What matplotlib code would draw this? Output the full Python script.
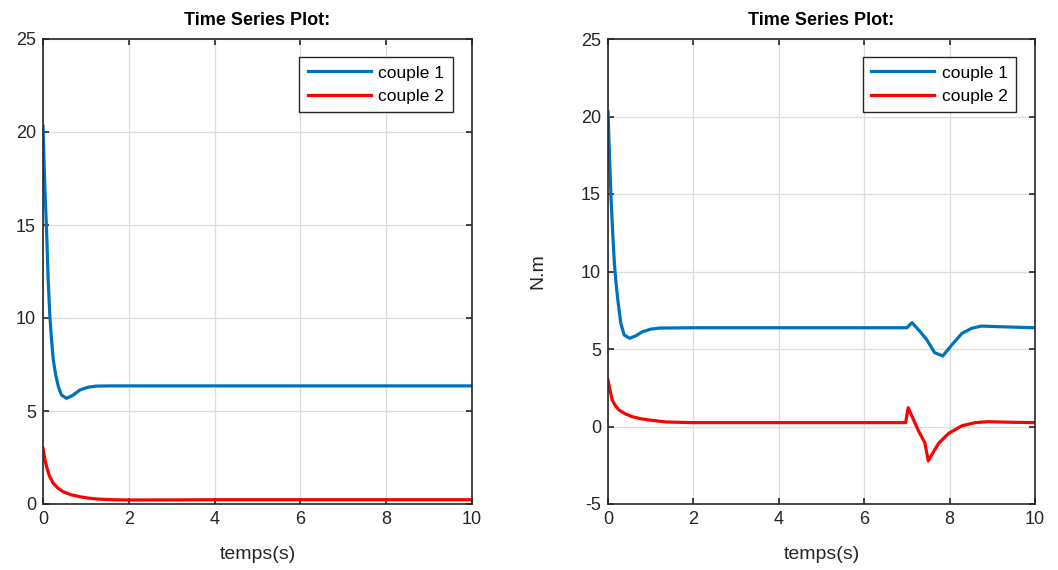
import matplotlib
matplotlib.use("Agg")
import matplotlib.pyplot as plt

plt.rcParams['font.family'] = ['Liberation Sans', 'DejaVu Sans']
plt.rcParams['axes.unicode_minus'] = False

# ---- Data ----
t_left = [0.0, 0.04, 0.085, 0.12, 0.16, 0.2, 0.24, 0.3, 0.36, 0.43, 0.55, 0.7, 0.86, 1.05, 1.25, 1.6, 2.0, 4.0, 6.0, 8.0, 10.0]
c1_left = [20.3, 17.2, 14.6, 12.1, 10.1, 8.8, 7.74, 6.9, 6.3, 5.86, 5.68, 5.85, 6.13, 6.28, 6.34, 6.35, 6.35, 6.35, 6.35, 6.35, 6.35]
t_left2 = [0.0, 0.04, 0.085, 0.15, 0.24, 0.35, 0.47, 0.65, 0.86, 1.05, 1.25, 1.6, 2.0, 3.0, 4.0, 6.0, 8.0, 10.0]
c2_left = [2.99, 2.45, 2.0, 1.5, 1.11, 0.85, 0.66, 0.5, 0.39, 0.32, 0.27, 0.23, 0.215, 0.22, 0.23, 0.23, 0.23, 0.23]

t_right = [0.0, 0.035, 0.07, 0.11, 0.15, 0.19, 0.23, 0.3, 0.38, 0.51, 0.65, 0.81, 1.0, 1.2, 2.0, 4.0, 6.0, 7.0,
           7.12, 7.3, 7.47, 7.65, 7.84, 8.05, 8.29, 8.52, 8.75, 9.14, 10.0]
c1_right = [20.3, 17.5, 14.8, 12.5, 10.5, 9.2, 8.16, 6.66, 5.9, 5.69, 5.85, 6.12, 6.28, 6.35, 6.37, 6.37, 6.37, 6.37,
            6.70, 6.15, 5.58, 4.76, 4.55, 5.26, 6.01, 6.34, 6.48, 6.44, 6.37]
t_right2 = [0.0, 0.05, 0.1, 0.17, 0.26, 0.4, 0.57, 0.75, 0.96, 1.36, 1.98, 4.0, 6.0, 6.97,
            7.03, 7.28, 7.42, 7.5, 7.74, 7.98, 8.29, 8.6, 8.9, 9.5, 10.0]
c2_right = [3.0, 2.3, 1.71, 1.35, 1.06, 0.82, 0.63, 0.51, 0.42, 0.29, 0.25, 0.25, 0.25, 0.25,
            1.21, -0.33, -1.04, -2.22, -1.09, -0.44, 0.05, 0.25, 0.31, 0.27, 0.25]

x_ticks = [0, 2, 4, 6, 8, 10]
y_ticks_left = [0, 5, 10, 15, 20, 25]
y_ticks_right = [-5, 0, 5, 10, 15, 20, 25]
labels = ['couple 1', 'couple 2']
title = 'Time Series Plot:'
xlabel = 'temps(s)'
ylabel_right = 'N.m'

BLUE = '#0072BD'
RED = '#FF0000'
DARK = '#262626'

W, H = 1058, 570
fig = plt.figure(figsize=(W / 100, H / 100), dpi=100)

def add_ax(x0, x1, y0, y1):
    return fig.add_axes([x0 / W, 1 - y1 / H, (x1 - x0) / W, (y1 - y0) / H])

axL = add_ax(43, 472, 39, 504)
axR = add_ax(608, 1035, 39, 504)

for ax, (t1, v1, t2, v2, yt) in zip(
        [axL, axR],
        [(t_left, c1_left, t_left2, c2_left, y_ticks_left),
         (t_right, c1_right, t_right2, c2_right, y_ticks_right)]):
    ax.plot(t1, v1, color=BLUE, lw=2.3, label=labels[0], solid_joinstyle='round')
    ax.plot(t2, v2, color=RED, lw=2.3, label=labels[1], solid_joinstyle='round')
    ax.set_xlim(0, 10)
    ax.set_ylim(yt[0], yt[-1])
    ax.set_xticks(x_ticks)
    ax.set_yticks(yt)
    ax.grid(True, color='#dcdcdc', lw=0.9)
    ax.set_axisbelow(True)
    ax.tick_params(direction='in', length=4, width=1.2, labelsize=13, colors=DARK,
                   top=True, right=True, pad=5)
    for s in ax.spines.values():
        s.set_color(DARK)
        s.set_linewidth(1.2)
    ax.set_title(title, fontsize=13, fontweight='bold', pad=10)
    ax.set_xlabel(xlabel, fontsize=14, color=DARK, labelpad=13)
    leg = ax.legend(loc='upper right', bbox_to_anchor=(0.956, 0.962), fontsize=12.5,
                    frameon=True, fancybox=False, edgecolor=DARK, framealpha=1,
                    handlelength=3.6, borderpad=0.5, labelspacing=0.47, handletextpad=0.45,
                    borderaxespad=0)
    leg.get_frame().set_linewidth(1.0)

axR.set_ylabel(ylabel_right, fontsize=14, color=DARK, labelpad=25)

fig.savefig('out.png', dpi=100)
